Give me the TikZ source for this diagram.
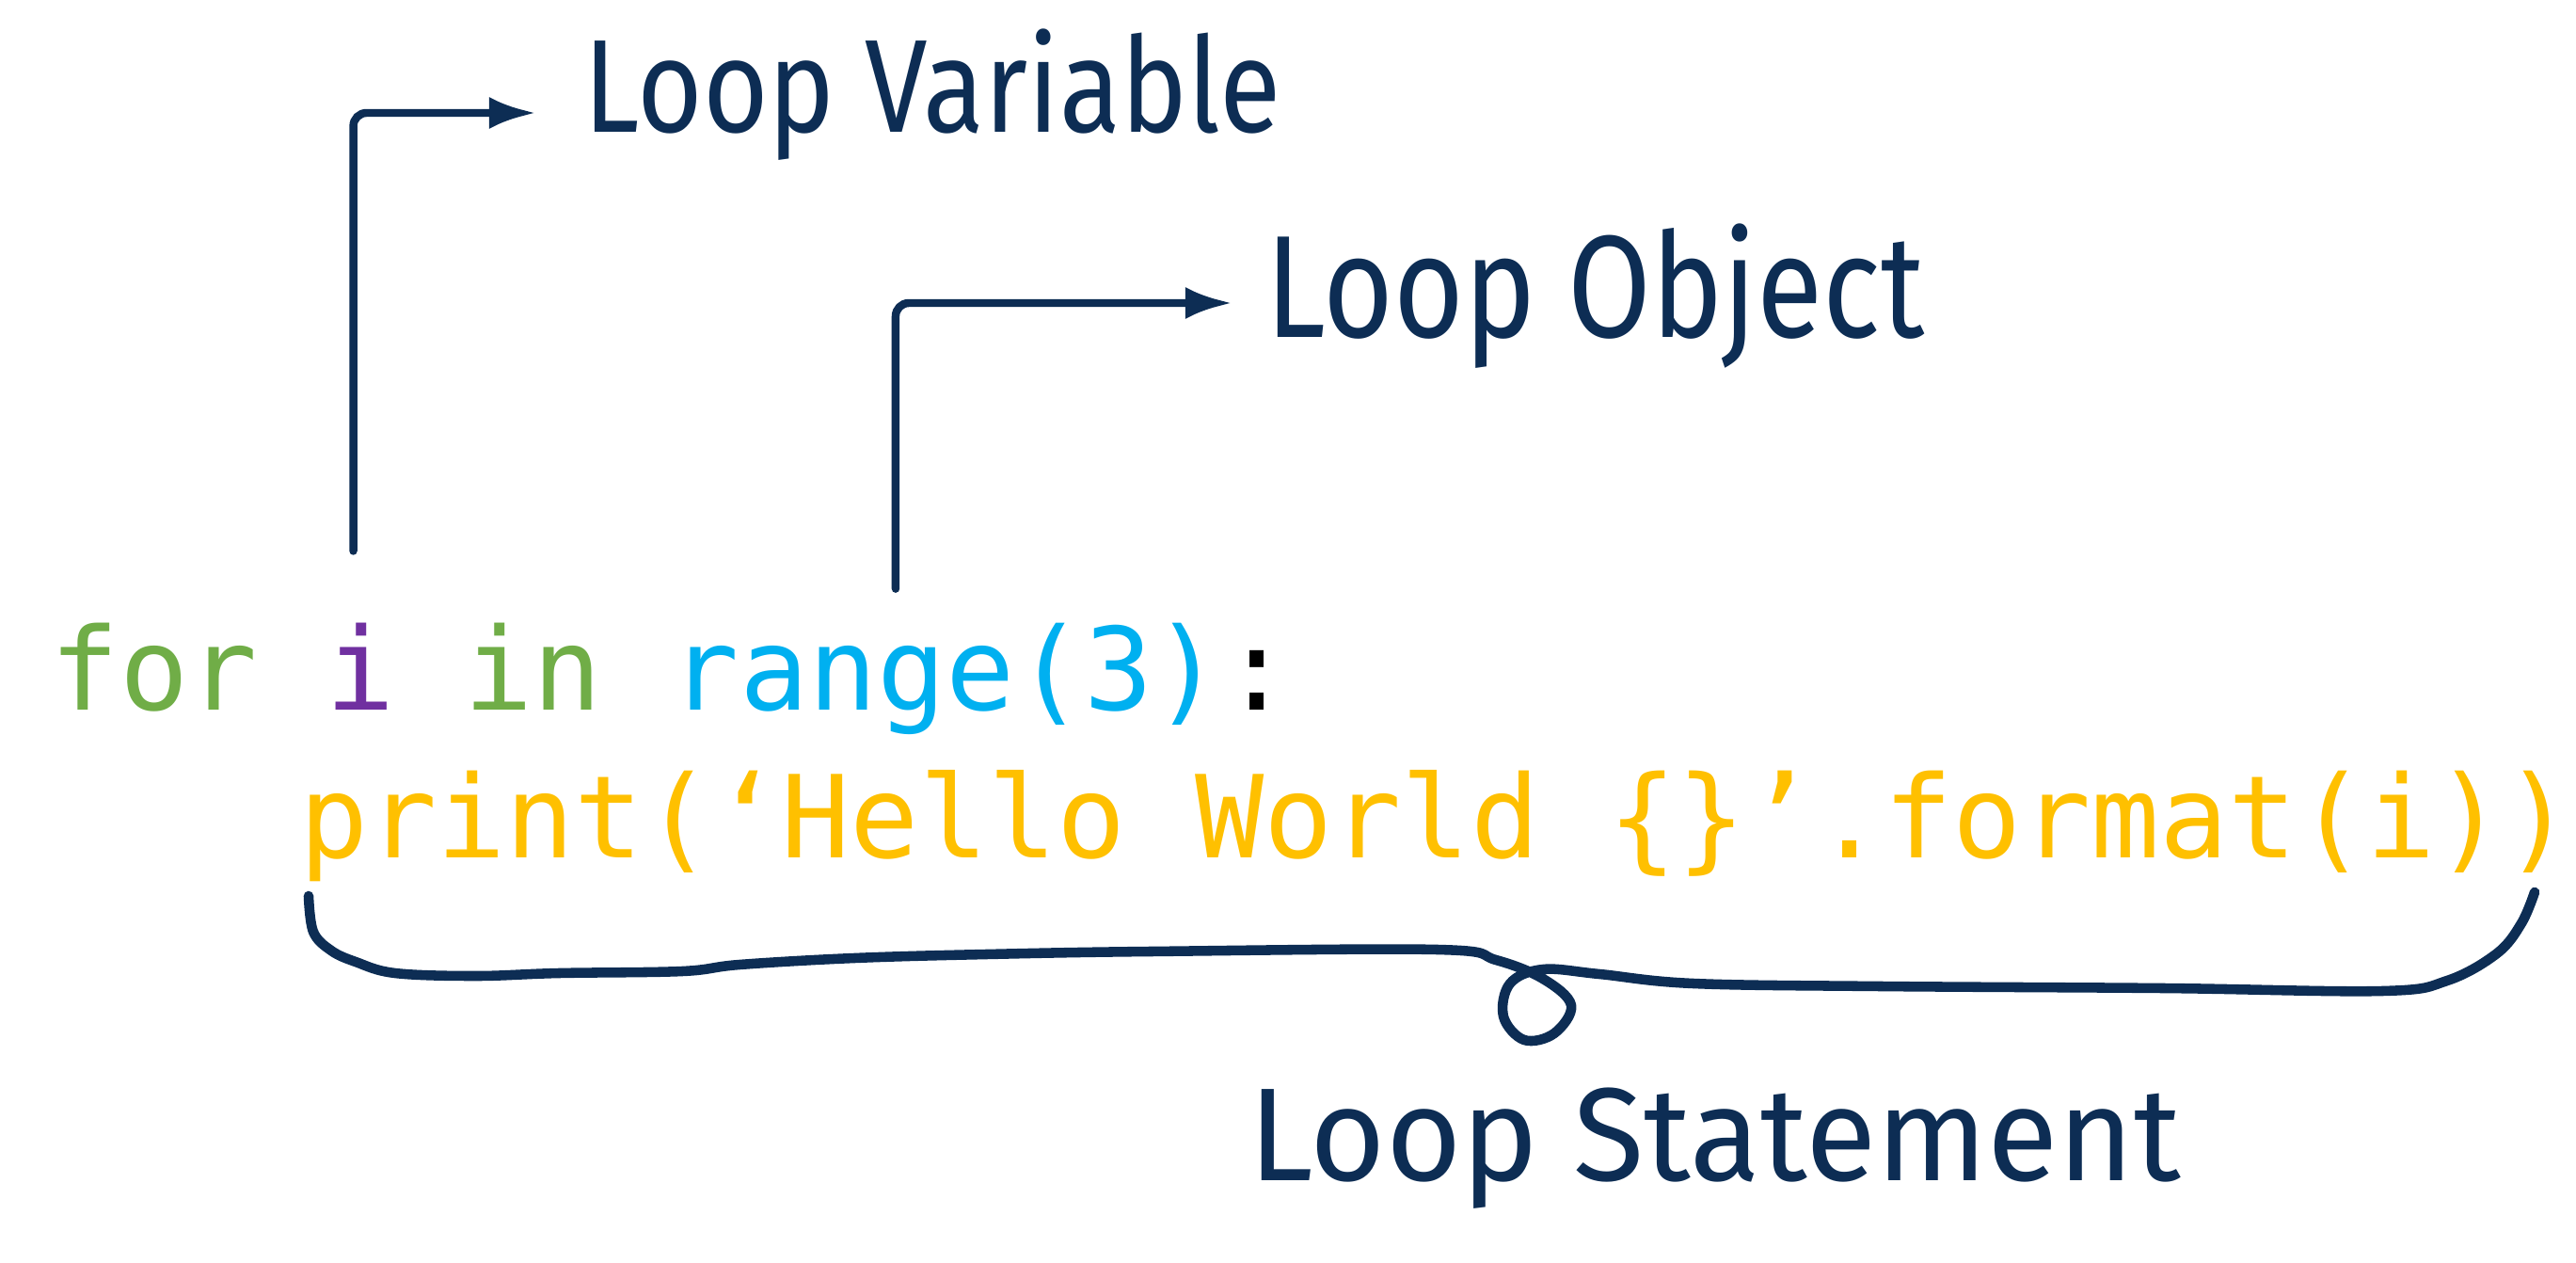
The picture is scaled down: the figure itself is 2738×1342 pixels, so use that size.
\documentclass[tikz,border=0pt]{standalone}
\usepackage{fontspec}
\usepackage{graphicx}
\usetikzlibrary{positioning,arrows.meta}
\setmainfont{Fira Sans}
\newfontfamily\codefont{DejaVu Sans Mono}
\newfontfamily\handfont{Fira Sans}
\definecolor{kwgreen}{HTML}{70AD47}
\definecolor{varpurple}{HTML}{7030A0}
\definecolor{fncyan}{HTML}{00B0F0}
\definecolor{stryellow}{HTML}{FFC000}
\definecolor{inkblue}{HTML}{0D2D54}
\newcommand{\handtext}[3]{{\handfont\fontsize{#2}{48}\selectfont\scalebox{#1}[1]{#3}}}
\def\spc{20.8pt}
\tikzset{
	code/.style={inner sep=0pt, outer sep=0pt, anchor=base west, font=\codefont\fontsize{34.6}{40}\selectfont},
	hand/.style={inner sep=0pt, anchor=base west, text=inkblue},
	arr/.style={draw=inkblue, line width=2.4pt, rounded corners=4pt, line cap=round, -{Latex[length=5mm,width=3.4mm]}},
	brace/.style={draw=inkblue, line width=3pt, line cap=round, line join=round}
}
\begin{document}
\begin{tikzpicture}[x=0.01cm, y=-0.01cm]
		\useasboundingbox (0,0) rectangle (2738,1342);

		\node[code, text=kwgreen] (kwfor) at (54,754) {for};
		\node[code, text=varpurple, base right=\spc of kwfor] (var) {i};
		\node[code, text=kwgreen, base right=\spc of var] (kwin) {in};
		\node[code, text=fncyan, base right=\spc of kwin] (rng) {range(3)};
		\node[code, base right=0pt of rng] (colon) {:};
		\node[code, text=stryellow] (pr) at (318,911) {print(‘Hello World \{\}’.format(i))};

		\node[hand] (lvar) at (620,140) {\handtext{0.85}{40}{Loop Variable}};
		\node[hand] (lobj) at (1345,358) {\handtext{0.83}{44}{Loop Object}};
		\node[hand] (lstmt) at (1327,1254) {\handtext{0.98}{40}{Loop Statement}};

		\coordinate (lvartip) at ([xshift=-0.5cm, yshift=0.2cm]lvar.base west);
		\coordinate (lobjtip) at ([xshift=-0.35cm, yshift=0.36cm]lobj.base west);

		\draw[arr] ([xshift=-0.08cm, yshift=0.76cm]var.north) |- (lvartip);
		\draw[arr] ([xshift=-0.54cm, yshift=0.36cm]rng.north) |- (lobjtip);

		\draw[brace] plot[smooth, tension=0.6] coordinates {(328,952) (333,990) (352,1010) (378,1022) (420,1034) (506,1037) (594,1034) (725,1032) (786,1025) (908,1018) (1048,1014) (1222,1011) (1528,1009) (1590,1020) (1640,1040) (1670,1068) (1652,1098) (1620,1105) (1598,1080) (1605,1045) (1640,1030) (1700,1035) (1800,1045) (2000,1048) (2300,1050) (2532,1053) (2601,1042) (2654,1013) (2680,981) (2694,948)};
\end{tikzpicture}
\end{document}
